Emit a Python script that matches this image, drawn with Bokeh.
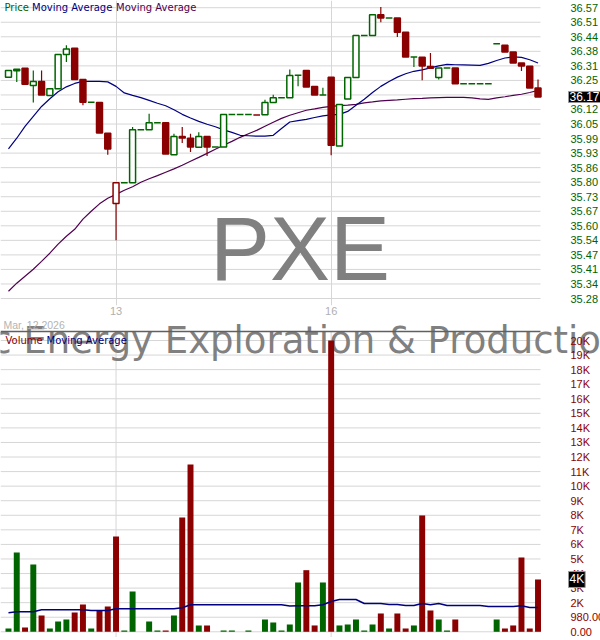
from bokeh.plotting import figure
from bokeh.models import Range1d, FixedTicker, Label, ColumnDataSource
from bokeh.core.properties import value
from bokeh.layouts import column
from bokeh.embed import file_html
from bokeh.resources import INLINE

# ---------------- data (15-minute bars, Mar 12 - Mar 16 2026) ----------------
opens = [36.261, 36.290, 36.301, 36.225, 36.243, 36.181, 36.211, 36.362, 36.390, 36.252,
         36.151, 36.150, 36.013, 35.701, 35.794, 35.794, 36.029, 36.029, 36.060, 36.060,
         35.918, 35.999, 35.991, 35.951, 35.999, 35.952, 35.952, 36.096, 36.096, 36.096,
         36.094, 36.095, 36.150, 36.171, 36.171, 36.270, 36.292, 36.221, 36.183, 36.261,
         35.957, 36.165, 36.260, 36.447, 36.447, 36.539, 36.524, 36.524, 36.461, 36.351,
         36.350, 36.309, 36.260, 36.303, 36.303, 36.233, 36.233, 36.233, 36.233, 36.410,
         36.403, 36.373, 36.325, 36.310, 36.214]
highs = [36.291, 36.297, 36.301, 36.291, 36.292, 36.211, 36.362, 36.403, 36.390, 36.252,
         36.151, 36.150, 36.013, 35.794, 35.794, 36.041, 36.029, 36.100, 36.060, 36.060,
         36.011, 36.041, 36.011, 36.017, 35.999, 35.952, 36.096, 36.096, 36.096, 36.096,
         36.094, 36.162, 36.184, 36.171, 36.296, 36.270, 36.292, 36.221, 36.215, 36.261,
         36.141, 36.260, 36.447, 36.447, 36.539, 36.573, 36.524, 36.524, 36.461, 36.351,
         36.350, 36.369, 36.303, 36.303, 36.303, 36.233, 36.233, 36.233, 36.233, 36.410,
         36.403, 36.373, 36.325, 36.310, 36.252]
lows = [36.261, 36.240, 36.231, 36.149, 36.183, 36.181, 36.211, 36.329, 36.252, 36.137,
        36.151, 36.014, 35.918, 35.538, 35.794, 35.794, 36.029, 36.029, 36.060, 35.921,
        35.918, 35.970, 35.930, 35.951, 35.912, 35.952, 35.952, 36.096, 36.096, 36.096,
        36.094, 36.095, 36.150, 36.171, 36.171, 36.222, 36.218, 36.183, 36.183, 35.915,
        35.957, 36.165, 36.260, 36.447, 36.447, 36.506, 36.524, 36.440, 36.351, 36.307,
        36.248, 36.300, 36.252, 36.303, 36.233, 36.233, 36.233, 36.233, 36.233, 36.410,
        36.373, 36.325, 36.289, 36.214, 36.174]
closes = [36.291, 36.297, 36.231, 36.243, 36.183, 36.211, 36.362, 36.387, 36.252, 36.151,
          36.151, 36.014, 35.943, 35.794, 35.794, 36.029, 36.029, 36.060, 36.060, 35.921,
          35.999, 35.992, 35.952, 35.999, 35.952, 35.952, 36.096, 36.096, 36.096, 36.096,
          36.094, 36.150, 36.171, 36.171, 36.269, 36.270, 36.218, 36.183, 36.183, 35.960,
          36.141, 36.260, 36.447, 36.447, 36.539, 36.524, 36.524, 36.461, 36.351, 36.351,
          36.311, 36.302, 36.303, 36.303, 36.233, 36.233, 36.233, 36.233, 36.233, 36.410,
          36.373, 36.325, 36.311, 36.214, 36.174]
volumes = [222, 5337, 290, 4530, 1097, 222, 693, 828, 1299, 1837,
           222, 1434, 1703, 6414, 87, 2712, 0, 693, 87, 87,
           1097, 7692, 11259, 426, 426, 0, 87, 87, 0, 87,
           0, 828, 626, 87, 491, 3318, 4146, 426, 3318, 19600,
           426, 491, 828, 87, 491, 1232, 222, 1232, 222, 426,
           7828, 1434, 828, 87, 828, 0, 0, 0, 0, 828,
           222, 426, 5000, 222, 3520]
price_ma_fast = [35.944, 35.991, 36.044, 36.088, 36.132, 36.166, 36.197, 36.219, 36.234, 36.243,
                 36.243, 36.243, 36.241, 36.221, 36.192, 36.181, 36.171, 36.159, 36.146, 36.135,
                 36.117, 36.097, 36.081, 36.066, 36.053, 36.042, 36.028, 36.017, 36.004, 36.002,
                 36.000, 36.000, 36.004, 36.034, 36.063, 36.069, 36.075, 36.083, 36.090, 36.095,
                 36.097, 36.110, 36.137, 36.164, 36.194, 36.221, 36.243, 36.262, 36.277, 36.288,
                 36.294, 36.303, 36.312, 36.319, 36.317, 36.316, 36.315, 36.314, 36.323, 36.336,
                 36.347, 36.352, 36.350, 36.339, 36.325]
price_ma_slow = [35.312, 35.348, 35.379, 35.410, 35.445, 35.481, 35.521, 35.556, 35.587, 35.632,
                 35.667, 35.700, 35.725, 35.742, 35.760, 35.776, 35.796, 35.811, 35.825, 35.840,
                 35.855, 35.871, 35.889, 35.906, 35.924, 35.942, 35.960, 35.977, 35.995, 36.011,
                 36.026, 36.044, 36.062, 36.079, 36.093, 36.104, 36.115, 36.121, 36.128, 36.132,
                 36.136, 36.138, 36.141, 36.148, 36.152, 36.157, 36.159, 36.161, 36.164, 36.167,
                 36.168, 36.170, 36.171, 36.172, 36.172, 36.172, 36.170, 36.166, 36.163, 36.170,
                 36.175, 36.181, 36.186, 36.194, 36.203]
volume_ma = [1280, 1346, 1346, 1346, 1481, 1481, 1481, 1481, 1481, 1481,
             1433, 1433, 1433, 1548, 1548, 1548, 1548, 1548, 1548, 1548,
             1548, 1615, 1817, 1817, 1817, 1817, 1817, 1817, 1817, 1817,
             1817, 1817, 1817, 1817, 1736, 1750, 1750, 1750, 1817, 2040,
             2174, 2174, 2174, 1905, 1905, 1905, 1837, 1837, 1770, 1770,
             1905, 1817, 1905, 1770, 1770, 1770, 1770, 1770, 1703, 1703,
             1703, 1703, 1750, 1636, 1636]

day_ticks = [13, 39]
day_labels = ["13", "16"]
date_label = "Mar, 12 2026"
symbol = "PXE"
fund_name = "Invesco Dynamic Energy Exploration & Production ETF"

price_ticks = [35.28, 35.3445, 35.409, 35.4735, 35.538, 35.6025, 35.667, 35.7315, 35.796,
               35.8605, 35.925, 35.9895, 36.054, 36.1185, 36.183, 36.2475, 36.312, 36.3765,
               36.441, 36.5055, 36.57]
price_tick_labels = ["35.28", "35.34", "35.41", "35.47", "35.54", "35.60", "35.67", "35.73",
                     "35.80", "35.86", "35.93", "35.99", "36.05", "36.12", "36.18", "36.25",
                     "36.31", "36.38", "36.44", "36.51", "36.57"]
volume_ticks = [0, 980, 1960, 2940, 3920, 4900, 5880, 6860, 7840, 8820, 9800, 10780, 11760,
                12740, 13720, 14700, 15680, 16660, 17640, 18620, 19600]
volume_tick_labels = ["0.00", "980.00", "2K", "3K", "4K", "5K", "6K", "7K", "8K", "9K", "10K",
                      "11K", "12K", "13K", "14K", "15K", "16K", "17K", "18K", "19K", "20K"]

# ---------------- styling / layout constants ----------------
GREEN = "#006400"
RED = "#8B0000"
NAVY = "#000080"
PURPLE = "#500050"
GRID = "#d6d6d6"
WM = "#808080"
AXFONT = "Liberation Sans"
LEGFONT = "DejaVu Sans"

FRAME_W = 600          # whole canvas width is frame; axis labels drawn inside
PLOT_W = 540           # width used by the bars / grid
x_lo, x_grid_end = -0.964, 64.3
x_hi = x_lo + (x_grid_end - x_lo) * FRAME_W / PLOT_W
p_lo, p_hi = 35.249, 36.602
v_lo, v_hi = -384, 21148
v_line = 20206          # top border of the volume pane

n = len(closes)
xs = list(range(n))
up = [True] + [closes[i] >= closes[i - 1] for i in range(1, n)]
colors = [GREEN if u else RED for u in up]

body_idx = [i for i in xs if opens[i] != closes[i]]
doji_idx = [i for i in xs if opens[i] == closes[i]]

wick_src = ColumnDataSource(dict(x=xs, lo=lows, hi=highs, c=colors))
body_src = ColumnDataSource(dict(
    x=body_idx,
    top=[max(opens[i], closes[i]) for i in body_idx],
    bot=[min(opens[i], closes[i]) for i in body_idx],
    lc=[colors[i] for i in body_idx],
    fc=["white" if closes[i] > opens[i] else colors[i] for i in body_idx],
))
doji_src = ColumnDataSource(dict(
    x0=[i - 0.4 for i in doji_idx], x1=[i + 0.4 for i in doji_idx],
    y=[closes[i] for i in doji_idx], c=[colors[i] for i in doji_idx],
))

xr = Range1d(x_lo, x_hi)
day_ticker = FixedTicker(ticks=day_ticks)

# ---------------- price panel ----------------
p1 = figure(frame_width=FRAME_W, frame_height=305, x_range=xr, y_range=Range1d(p_lo, p_hi),
            y_axis_location=None, toolbar_location=None, output_backend="svg",
            min_border=0, outline_line_color=None,
            background_fill_color="white", border_fill_color="white")
p1.ygrid.visible = False
p1.xaxis.ticker = day_ticker
p1.xgrid.ticker = day_ticker
p1.xgrid.grid_line_color = GRID
p1.xaxis.major_label_overrides = {t: l for t, l in zip(day_ticks, day_labels)}
p1.xaxis.axis_line_color = None
p1.xaxis.major_tick_in = 0
p1.xaxis.major_tick_out = 0
p1.xaxis.minor_tick_line_color = None
p1.xaxis.major_label_standoff = 1
p1.xaxis.major_label_text_color = "#b0b0b0"
p1.xaxis.major_label_text_font = AXFONT
p1.xaxis.major_label_text_font_size = "11px"

# horizontal grid
p1.segment(x0=x_lo, y0=price_ticks, x1=x_grid_end, y1=price_ticks, line_color=GRID, line_width=1)
# watermark
p1.text(x=[35.23], y=[35.498], text=[symbol], text_align="center", text_baseline="middle",
        text_font=value(AXFONT), text_font_size="90px", text_color=WM)
# price tick labels
p1.text(x=x_grid_end, y=price_ticks, text=price_tick_labels, x_offset=30,
        text_align="left", text_baseline="middle", text_font=value(AXFONT),
        text_font_size="11px", text_color=GREEN)

p1.line(xs, price_ma_slow, line_color=PURPLE, line_width=1.2)
p1.line(xs, price_ma_fast, line_color=NAVY, line_width=1.2)
p1.segment(x0="x", y0="lo", x1="x", y1="hi", line_color="c", line_width=1.2, source=wick_src)
p1.vbar(x="x", width=0.72, top="top", bottom="bot", fill_color="fc", line_color="lc",
        line_width=1.5, source=body_src)
p1.segment(x0="x0", y0="y", x1="x1", y1="y", line_color="c", line_width=1.5, source=doji_src)

for txt, col, off in (("Price", GREEN, 4), ("Moving Average", NAVY, 31.5),
                      ("Moving Average", PURPLE, 115.5)):
    p1.add_layout(Label(x=x_lo, y=p_hi, x_offset=off, y_offset=-1, text=txt,
                        text_baseline="top", text_font=LEGFONT, text_font_size="10px",
                        text_color=col))

p1.add_layout(Label(x=x_grid_end, y=closes[-1], x_offset=28, text=f"{closes[-1]:.2f}",
                    text_baseline="middle", text_font=AXFONT, text_font_size="12px",
                    text_color="white", background_fill_color="black",
                    border_line_color="#999999", padding=1))

# ---------------- volume panel ----------------
p2 = figure(frame_width=FRAME_W, frame_height=320, x_range=xr, y_range=Range1d(v_lo, v_hi),
            y_axis_location=None, x_axis_location=None, toolbar_location=None,
            output_backend="svg", min_border=0, outline_line_color=None,
            background_fill_color="white", border_fill_color="white")
p2.xgrid.visible = False
p2.ygrid.visible = False

p2.segment(x0=x_lo, y0=volume_ticks, x1=x_grid_end, y1=volume_ticks, line_color=GRID, line_width=1)
p2.segment(x0=day_ticks, y0=v_lo, x1=day_ticks, y1=v_line, line_color=GRID, line_width=1)
p2.text(x=[x_lo], y=[v_line], text=[fund_name], x_offset=-305, y_offset=9.5,
        text_align="left", text_baseline="middle", text_font=value(LEGFONT),
        text_font_size="37px", text_color=WM)
p2.text(x=x_grid_end, y=volume_ticks, text=volume_tick_labels, x_offset=30,
        text_align="left", text_baseline="middle", text_font=value(AXFONT),
        text_font_size="11px", text_color=RED)

p2.vbar(x=xs, width=0.72, top=volumes, bottom=0, fill_color=colors, line_color=None)
p2.line(xs, volume_ma, line_color=NAVY, line_width=1.5)
p2.segment(x0=[x_lo], y0=[v_line], x1=[x_grid_end], y1=[v_line], line_color="#606060",
           line_width=1.5)

p2.add_layout(Label(x=x_lo, y=v_hi, x_offset=3, y_offset=-1, text=date_label,
                    text_baseline="top", text_font=AXFONT, text_font_size="10.5px",
                    text_color="#b4b4b4"))
for txt, col, off in (("Volume", RED, 5), ("Moving Average", NAVY, 46)):
    p2.add_layout(Label(x=x_lo, y=v_line, x_offset=off, y_offset=-3.5, text=txt,
                        text_baseline="top", text_font=LEGFONT, text_font_size="10px",
                        text_color=col))

vk = round(volumes[-1] / 1000)
p2.add_layout(Label(x=x_grid_end, y=volumes[-1], x_offset=28, text=f"{vk}K",
                    text_baseline="middle", text_font=AXFONT, text_font_size="12px",
                    text_color="white", background_fill_color="black",
                    border_line_color="#999999", padding=1))

layout = column(p1, p2)
open("out.html", "w").write(file_html(layout, INLINE))
